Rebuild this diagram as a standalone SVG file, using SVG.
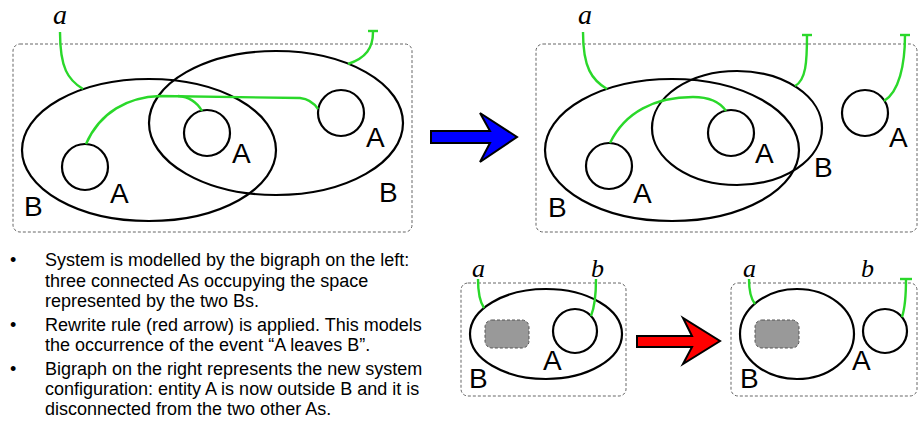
<svg xmlns="http://www.w3.org/2000/svg" width="923" height="421" viewBox="0 0 923 421">
<style>
.frame{fill:none;stroke:#666;stroke-width:1;stroke-dasharray:3 2}
.node{fill:none;stroke:#000;stroke-width:2.2}
.link{fill:none;stroke:#2ad82a;stroke-width:2.4;stroke-linecap:butt}
.lbl{font-family:"Liberation Sans",Arial,sans-serif;font-size:28px;fill:#000}
.nm{font-family:"Liberation Serif","Times New Roman",serif;font-style:italic;font-size:28px;fill:#000}
.nms{font-family:"Liberation Serif","Times New Roman",serif;font-style:italic;font-size:26px;fill:#000}
.site{fill:#999;stroke:#555;stroke-width:1;stroke-dasharray:3 2}
.body{font-family:"Liberation Sans",Arial,sans-serif;font-size:18px;fill:#000}
.arrow{stroke:#000;stroke-width:2;stroke-linejoin:miter}
</style>
<rect width="923" height="421" fill="#fff"/>

<!-- Top-left bigraph -->
<g id="big-left">
  <rect class="frame" x="13" y="44" width="399" height="188" rx="7"/>
  <g id="L-B1"><ellipse class="node" cx="149" cy="150" rx="127" ry="71"/><text class="lbl" x="24" y="216">B</text></g>
  <g id="L-B2"><ellipse class="node" cx="276" cy="123" rx="127" ry="72"/><text class="lbl" x="379" y="202">B</text></g>
  <g id="L-A1"><circle class="node" cx="85" cy="167" r="23"/><text class="lbl" x="110" y="203">A</text></g>
  <g id="L-A2"><circle class="node" cx="207" cy="133" r="23"/><text class="lbl" x="232" y="163">A</text></g>
  <g id="L-A3"><circle class="node" cx="341" cy="113" r="23"/><text class="lbl" x="366" y="147">A</text></g>
  <text class="nm" x="53" y="24">a</text>
</g>

<!-- Top-right bigraph -->
<g id="big-right">
  <rect class="frame" x="536" y="44" width="381" height="188" rx="7"/>
  <g id="R-B1"><ellipse class="node" cx="672" cy="150" rx="127" ry="71"/><text class="lbl" x="548" y="217">B</text></g>
  <g id="R-B2"><ellipse class="node" cx="737" cy="128" rx="85" ry="57"/><text class="lbl" x="814" y="177">B</text></g>
  <g id="R-A1"><circle class="node" cx="609" cy="166" r="23"/><text class="lbl" x="633" y="203">A</text></g>
  <g id="R-A2"><circle class="node" cx="731" cy="133" r="23"/><text class="lbl" x="755" y="163">A</text></g>
  <g id="R-A3"><circle class="node" cx="865" cy="113" r="23"/><text class="lbl" x="889" y="147">A</text></g>
  <text class="nm" x="578" y="24">a</text>
</g>

<!-- Bottom-left rule side -->
<g id="rule-left">
  <rect class="frame" x="461" y="283" width="165" height="113" rx="7"/>
  <g id="rl-B"><ellipse class="node" cx="546" cy="334" rx="76" ry="45"/><text class="lbl" x="469" y="388">B</text></g>
  <rect class="site" x="485" y="320" width="44" height="28" rx="7"/>
  <g id="rl-A"><circle class="node" cx="575" cy="331" r="22"/><text class="lbl" x="543" y="370">A</text></g>
  <text class="nms" x="472" y="277">a</text>
  <text class="nms" x="591" y="277">b</text>
</g>

<!-- Bottom-right rule side -->
<g id="rule-right">
  <rect class="frame" x="731" y="283" width="186" height="113" rx="7"/>
  <g id="rr-B"><ellipse class="node" cx="797" cy="334" rx="57" ry="45"/><text class="lbl" x="740" y="388">B</text></g>
  <rect class="site" x="755" y="320" width="44" height="28" rx="7"/>
  <g id="rr-A"><circle class="node" cx="885" cy="331" r="22"/><text class="lbl" x="852" y="370">A</text></g>
  <text class="nms" x="743" y="277">a</text>
  <text class="nms" x="861" y="277">b</text>
</g>

<!-- Arrows -->
<g id="blue-arrow"><polygon class="arrow" fill="#0000ff" points="431,131 490,131 480,113 517,137 480,162 490,143 431,143"/></g>
<g id="red-arrow"><polygon class="arrow" fill="#ff0000" points="637,336 692,336 683,318 720,341 683,364 692,347 637,347"/></g>

<!-- Connectors (links) -->
<g id="connectors">
  <path class="link" d="M60,32 C60,68 68,80 83,89"/>
  <path class="link" d="M86,144 C100,112 128,97 160,96 L300,98 C309,99 314,103 318,109"/>
  <path class="link" d="M178,96 C192,97 198,104 202,111"/>
  <path class="link" d="M348,64 C366,58 373,48 373,32"/>
  <path class="link" d="M368,31 L378,31"/>

  <path class="link" d="M583,32 C583,68 592,80 607,89"/>
  <path class="link" d="M610,143 C625,112 655,97 693,97 C708,97 720,102 726,111"/>
  <path class="link" d="M795,86 C806,80 807,62 807,35"/>
  <path class="link" d="M802,35 L812,35"/>
  <path class="link" d="M884,101 C899,92 905,65 905,35"/>
  <path class="link" d="M900,35 L910,35"/>

  <path class="link" d="M478,279 C478,295 480,302 484,308"/>
  <path class="link" d="M596,279 C596,295 595,306 591,316"/>

  <path class="link" d="M749,279 C749,293 751,299 755,304"/>
  <path class="link" d="M902,317 C906,305 906,292 906,279"/>
  <path class="link" d="M900,279 L912,279"/>
</g>

<!-- Bullet text -->
<g id="notes" class="body">
  <text x="10" y="266">•</text>
  <text x="45" y="266">System is modelled by the bigraph on the left:</text>
  <text x="45" y="287">three connected As occupying the space</text>
  <text x="45" y="307">represented by the two Bs.</text>
  <text x="10" y="331">•</text>
  <text x="45" y="331">Rewrite rule (red arrow) is applied. This models</text>
  <text x="45" y="351">the occurrence of the event “A leaves B”.</text>
  <text x="10" y="375">•</text>
  <text x="45" y="375">Bigraph on the right represents the new system</text>
  <text x="45" y="395">configuration: entity A is now outside B and it is</text>
  <text x="45" y="415">disconnected from the two other As.</text>
</g>
</svg>
